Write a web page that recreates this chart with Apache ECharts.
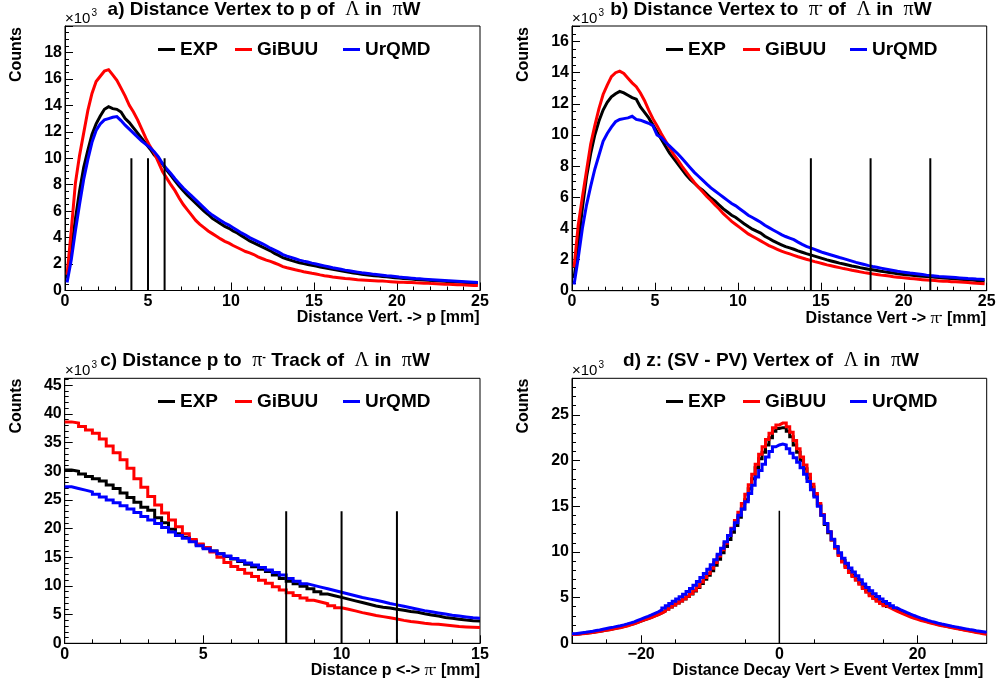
<!DOCTYPE html>
<html><head><meta charset="utf-8">
<script src="https://cdn.jsdelivr.net/npm/echarts@6/dist/echarts.min.js"></script>
<style>html,body{margin:0;padding:0;background:#fff}#c{width:996px;height:686px}</style>
</head><body><div id="c"></div>
<script>
const FONT = "'Liberation Sans', Arial, Helvetica, sans-serif";
const SERIF = "'Liberation Serif', 'DejaVu Serif', serif";
const seriesNames = ['EXP', 'GiBUU', 'UrQMD'];
const seriesColors = ['#000000', '#ff0000', '#0000ff'];

// ---- panel a: Distance Vertex -> p (bins 0.25 mm from 0), values in 10^3 counts
const aBinStart = 0, aBinWidth = 0.25;
const aEXP = [0.9,3.0,5.4,7.5,9.3,10.6,11.8,12.6,13.2,13.7,
  13.9,13.75,13.7,13.5,13.0,12.7,12.3,11.9,11.5,11.1,
  10.7,10.25,9.95,9.55,9.1,8.7,8.3,7.9,7.55,7.2,
  6.9,6.6,6.3,6.0,5.75,5.45,5.25,5.05,4.85,4.7,
  4.5,4.35,4.15,3.95,3.75,3.6,3.45,3.3,3.15,3.0,
  2.8,2.65,2.48,2.38,2.28,2.18,2.1,2.03,1.97,1.91,
  1.85,1.78,1.72,1.66,1.6,1.55,1.49,1.43,1.38,1.33,
  1.28,1.23,1.19,1.15,1.12,1.09,1.06,1.03,1.0,0.97,
  0.94,0.91,0.88,0.86,0.83,0.81,0.79,0.77,0.75,0.73,
  0.71,0.69,0.67,0.66,0.64,0.62,0.6,0.58,0.57,0.55];
const aGiBUU = [1.2,4.5,8.1,10.2,11.9,13.6,14.9,15.8,16.2,16.6,
  16.7,16.3,15.9,15.3,14.7,14.0,13.5,12.9,12.2,11.5,
  10.9,10.4,9.7,9.0,8.5,8.0,7.55,7.0,6.5,6.1,
  5.7,5.3,5.0,4.75,4.5,4.3,4.1,3.9,3.72,3.58,
  3.4,3.25,3.1,2.95,2.85,2.72,2.55,2.42,2.3,2.2,
  2.08,1.95,1.8,1.72,1.65,1.57,1.5,1.42,1.36,1.3,
  1.25,1.18,1.12,1.07,1.02,0.98,0.94,0.9,0.88,0.85,
  0.82,0.8,0.78,0.76,0.74,0.72,0.71,0.69,0.67,0.65,
  0.63,0.62,0.61,0.6,0.58,0.57,0.55,0.54,0.52,0.51,
  0.5,0.48,0.47,0.46,0.44,0.43,0.42,0.4,0.38,0.37];
const aUrQMD = [0.6,2.3,4.5,6.5,8.4,9.9,11.2,12.1,12.6,12.9,
  13.0,13.1,13.15,12.85,12.5,12.2,11.9,11.6,11.3,11.05,
  10.8,10.5,10.1,9.6,9.2,8.85,8.45,8.1,7.75,7.45,
  7.15,6.85,6.55,6.25,5.95,5.7,5.5,5.3,5.1,4.95,
  4.75,4.55,4.35,4.2,4.0,3.85,3.7,3.55,3.38,3.2,
  3.05,2.9,2.72,2.6,2.5,2.4,2.3,2.22,2.15,2.07,
  2.0,1.93,1.86,1.79,1.72,1.66,1.6,1.54,1.49,1.44,
  1.39,1.34,1.3,1.26,1.22,1.19,1.16,1.12,1.09,1.06,
  1.02,0.99,0.96,0.93,0.9,0.88,0.86,0.84,0.82,0.8,
  0.78,0.76,0.74,0.72,0.7,0.68,0.66,0.64,0.62,0.6];
const aCuts = [4, 5, 6], aCutTop = 10;

// ---- panel b: Distance Vertex -> pi- (bins 0.25 mm)
const bBinStart = 0, bBinWidth = 0.25;
const bEXP = [0.8,2.9,5.3,7.3,8.8,10.0,10.9,11.6,12.1,12.45,
  12.65,12.8,12.7,12.55,12.4,12.3,11.8,11.45,11.1,10.65,
  10.2,9.75,9.3,8.85,8.5,8.15,7.8,7.45,7.15,6.9,
  6.65,6.45,6.2,5.95,5.75,5.5,5.25,5.05,4.85,4.7,
  4.5,4.3,4.12,3.95,3.82,3.7,3.5,3.35,3.2,3.07,
  2.95,2.83,2.75,2.66,2.56,2.47,2.38,2.3,2.22,2.14,
  2.06,1.98,1.91,1.84,1.77,1.71,1.65,1.59,1.54,1.48,
  1.43,1.38,1.34,1.3,1.25,1.21,1.17,1.13,1.09,1.06,
  1.03,1.0,0.97,0.95,0.93,0.91,0.89,0.86,0.84,0.82,
  0.8,0.78,0.76,0.74,0.72,0.7,0.68,0.66,0.64,0.62];
const bGiBUU = [1.5,4.2,6.0,7.7,9.4,10.6,11.7,12.6,13.2,13.75,
  14.0,14.1,13.95,13.65,13.35,13.1,12.7,12.2,11.6,11.05,
  10.6,10.1,9.65,9.2,8.75,8.4,8.0,7.65,7.3,6.95,
  6.65,6.35,6.05,5.8,5.5,5.25,4.95,4.7,4.45,4.25,
  4.05,3.85,3.65,3.5,3.35,3.2,3.05,2.9,2.78,2.66,
  2.54,2.45,2.36,2.27,2.18,2.1,2.02,1.95,1.87,1.8,
  1.73,1.66,1.6,1.54,1.48,1.42,1.37,1.31,1.26,1.21,
  1.16,1.12,1.08,1.04,1.0,0.97,0.94,0.9,0.87,0.84,
  0.81,0.78,0.76,0.73,0.71,0.69,0.67,0.65,0.63,0.61,
  0.6,0.58,0.57,0.56,0.54,0.52,0.5,0.48,0.47,0.45];
const bUrQMD = [0.4,2.1,4.0,5.5,6.7,7.8,8.7,9.6,10.1,10.5,
  10.85,11.0,11.05,11.1,11.2,11.0,10.95,10.85,10.75,10.6,
  10.0,9.85,9.55,9.3,9.05,8.8,8.5,8.2,7.9,7.6,
  7.35,7.1,6.85,6.6,6.4,6.2,6.0,5.8,5.6,5.45,
  5.25,5.05,4.85,4.7,4.55,4.4,4.2,4.05,3.9,3.75,
  3.6,3.48,3.38,3.28,3.12,2.98,2.85,2.75,2.65,2.55,
  2.45,2.37,2.29,2.21,2.13,2.06,1.98,1.9,1.82,1.75,
  1.68,1.61,1.55,1.5,1.45,1.4,1.35,1.3,1.25,1.21,
  1.17,1.13,1.1,1.07,1.04,1.0,0.97,0.95,0.92,0.9,
  0.88,0.86,0.84,0.82,0.8,0.78,0.77,0.75,0.74,0.72];
const bCuts = [14.4, 18, 21.6], bCutTop = 8.5;

// ---- panel c: Distance p <-> pi- (bins 0.25 mm)
const cBinStart = 0, cBinWidth = 0.25;
const cEXP = [30.2,30.0,29.5,29.1,28.7,28.3,27.6,27.0,26.2,25.4,
  24.6,23.7,23.2,21.9,21.0,19.9,19.1,18.5,17.9,17.2,
  16.7,16.1,15.6,15.15,14.7,14.25,13.8,13.35,12.9,12.5,
  11.9,11.3,10.8,10.4,9.95,9.5,9.0,8.6,8.3,8.0,
  7.7,7.4,7.1,6.8,6.5,6.3,6.15,5.95,5.75,5.55,
  5.4,5.15,4.95,4.75,4.5,4.35,4.2,4.05,3.95,3.9];
const cGiBUU = [38.6,38.4,37.8,37.2,36.6,35.6,34.4,33.2,32.0,30.5,
  28.7,27.2,25.6,24.1,22.7,21.5,20.3,19.1,18.1,17.3,
  16.7,15.9,15.0,14.1,13.4,12.85,12.2,11.65,11.0,10.45,
  9.85,9.3,8.8,8.35,7.9,7.5,7.2,6.9,6.55,6.2,
  5.95,5.65,5.35,5.1,4.85,4.65,4.45,4.25,4.0,3.8,
  3.68,3.5,3.38,3.3,3.2,3.05,2.92,2.85,2.8,2.75];
const cUrQMD = [27.3,27.0,26.7,26.4,26.0,25.5,25.0,24.5,24.0,23.4,
  22.8,22.1,21.5,20.9,20.2,19.4,18.8,18.3,17.7,17.0,
  16.5,16.1,15.6,15.2,14.8,14.4,14.0,13.65,13.2,12.8,
  12.35,11.9,11.3,10.8,10.4,10.1,9.8,9.5,9.2,8.9,
  8.6,8.3,8.0,7.75,7.5,7.25,6.95,6.7,6.45,6.2,
  5.95,5.7,5.5,5.3,5.1,4.9,4.75,4.6,4.45,4.35];
const cCuts = [8, 10, 12], cCutTop = 23;

// ---- panel d: z (SV - PV) (bins 0.5 mm from -30)
const dBinStart = -30, dBinWidth = 0.5;
const dEXP = [0.98,1.02,1.06,1.1,1.14,1.19,1.25,1.31,1.38,1.44,
  1.51,1.58,1.66,1.74,1.83,1.93,2.04,2.16,2.29,2.43,
  2.57,2.7,2.84,2.99,3.15,3.32,3.52,3.74,3.96,4.18,
  4.4,4.62,4.86,5.12,5.4,5.72,6.1,6.55,7.0,7.45,
  7.95,8.55,9.2,9.9,10.6,11.35,12.15,12.9,13.8,14.7,
  15.7,16.9,18.0,19.2,20.2,20.9,21.7,22.5,23.2,23.5,
  23.6,23.6,23.2,22.6,21.7,20.9,20.0,19.1,18.1,17.1,
  16.2,15.1,14.0,13.0,12.1,11.3,10.5,9.75,9.05,8.45,
  7.9,7.45,7.05,6.6,6.15,5.75,5.37,5.05,4.75,4.5,
  4.25,4.03,3.83,3.63,3.45,3.28,3.12,2.97,2.83,2.7,
  2.58,2.47,2.36,2.26,2.16,2.06,1.98,1.9,1.82,1.75,
  1.67,1.6,1.52,1.45,1.38,1.31,1.24,1.17,1.1,1.03];
const dGiBUU = [0.97,1.0,1.04,1.08,1.12,1.17,1.23,1.29,1.36,1.42,
  1.49,1.56,1.64,1.71,1.8,1.9,2.01,2.13,2.27,2.42,
  2.56,2.68,2.82,2.97,3.13,3.3,3.5,3.73,3.96,4.18,
  4.4,4.63,4.88,5.15,5.45,5.8,6.2,6.7,7.2,7.65,
  8.2,8.85,9.55,10.25,10.95,11.8,12.6,13.45,14.35,15.3,
  16.3,17.35,18.5,19.6,20.7,21.5,22.3,23.0,23.6,23.9,
  24.1,24.1,23.7,23.1,22.2,21.3,20.4,19.5,18.5,17.4,
  16.4,15.3,14.1,13.1,12.2,11.3,10.4,9.6,8.9,8.3,
  7.75,7.3,6.9,6.45,6.0,5.6,5.2,4.9,4.6,4.35,
  4.1,3.9,3.7,3.52,3.35,3.18,3.02,2.88,2.74,2.62,
  2.5,2.4,2.3,2.2,2.1,2.0,1.92,1.85,1.77,1.7,
  1.62,1.55,1.47,1.4,1.33,1.26,1.19,1.12,1.05,0.98];
const dUrQMD = [1.05,1.1,1.15,1.2,1.26,1.32,1.39,1.46,1.54,1.62,
  1.7,1.77,1.85,1.93,2.02,2.12,2.23,2.35,2.5,2.65,
  2.8,2.94,3.1,3.27,3.45,3.65,3.87,4.1,4.35,4.6,
  4.85,5.1,5.38,5.68,6.0,6.35,6.75,7.2,7.65,8.1,
  8.6,9.15,9.75,10.4,11.1,11.8,12.5,13.2,14.0,14.7,
  15.5,16.4,17.3,18.2,18.9,19.6,20.4,21.0,21.5,21.7,
  21.8,21.7,21.3,20.8,20.3,19.8,19.2,18.5,17.7,16.8,
  16.0,15.0,14.0,13.1,12.2,11.4,10.6,9.9,9.3,8.75,
  8.25,7.8,7.4,6.95,6.5,6.1,5.75,5.42,5.12,4.85,
  4.58,4.35,4.12,3.9,3.7,3.52,3.35,3.19,3.04,2.9,
  2.76,2.63,2.51,2.4,2.3,2.2,2.11,2.03,1.95,1.87,
  1.8,1.72,1.65,1.58,1.51,1.45,1.38,1.32,1.26,1.2];
const dCuts = [0], dCutTop = 14.5;

// ---- texts ({g|..} = Greek symbol font, {s|..} = superscript)
const panelTitles = ['a) Distance Vertex to p of  {g|Λ} in  {g|π}W',
  'b) Distance Vertex to  {g|π}{s|-} of  {g|Λ} in  {g|π}W',
  'c) Distance p to  {g|π}{s|-} Track of  {g|Λ} in  {g|π}W',
  'd) z: (SV - PV) Vertex of  {g|Λ} in  {g|π}W'];
const xTitles = ['Distance Vert. -> p [mm]', 'Distance Vert -> {g|π}{s|-} [mm]',
  'Distance p <-> {g|π}{s|-} [mm]', 'Distance Decay Vert > Event Vertex [mm]'];
const yTitle = 'Counts';

// ---- layout (pixels)
const panels = [
  { grid: {left: 65, top: 26, width: 415, height: 264.5}, stepped: false,
    x: {min: 0, max: 25, interval: 5, minor: 5}, y: {min: 0, max: 20, interval: 2, minor: 4},
    bins: [aBinStart, aBinWidth], vals: [aEXP, aGiBUU, aUrQMD], cuts: aCuts, cutTop: aCutTop, cutW: 2,
    titleXY: [264, 9.5], expXY: [65, 18.5], cntXY: [17, 27], xtXY: [479.5, 317.5], legX: [158, 235, 343], legY: 40 },
  { grid: {left: 572, top: 26, width: 414.7, height: 264.7}, stepped: false,
    x: {min: 0, max: 25, interval: 5, minor: 5}, y: {min: 0, max: 17, interval: 2, minor: 4},
    bins: [bBinStart, bBinWidth], vals: [bEXP, bGiBUU, bUrQMD], cuts: bCuts, cutTop: bCutTop, cutW: 2,
    titleXY: [771, 9.5], expXY: [572, 18.5], cntXY: [524, 27], xtXY: [986, 319], legX: [666, 743, 850], legY: 40 },
  { grid: {left: 64.7, top: 378.3, width: 415.3, height: 265}, stepped: true,
    x: {min: 0, max: 15, interval: 5, minor: 5}, y: {min: 0, max: 46.2, interval: 5, minor: 5},
    bins: [cBinStart, cBinWidth], vals: [cEXP, cGiBUU, cUrQMD], cuts: cCuts, cutTop: cCutTop, cutW: 2,
    titleXY: [265, 361], expXY: [65, 370.5], cntXY: [17, 378.5], xtXY: [480, 670.5], legX: [158, 235, 343], legY: 392 },
  { grid: {left: 572, top: 378.3, width: 414.7, height: 265}, stepped: true,
    x: {min: -30, max: 30, interval: 10, minor: 2, labels: [-20, 0, 20]}, y: {min: 0, max: 29, interval: 5, minor: 5},
    bins: [dBinStart, dBinWidth], vals: [dEXP, dGiBUU, dUrQMD], cuts: dCuts, cutTop: dCutTop, cutW: 1.5,
    titleXY: [771, 361], expXY: [572, 370.5], cntXY: [524, 378.5], xtXY: [983.3, 670.5], legX: [666, 743, 850], legY: 392 }
];

function histPoints(start, width, vals, stepped) {
  if (!stepped) return vals.map((v, i) => [start + (i + 0.5) * width, v]);
  const pts = vals.map((v, i) => [start + i * width, v]);
  pts.push([start + vals.length * width, vals[vals.length - 1]]);
  return pts;
}

function richFor(size) {
  return {
    g: {fontFamily: SERIF, fontSize: size + 1, fontWeight: 'normal', fill: '#000'},
    s: {fontFamily: FONT, fontSize: Math.round(size * 0.6), fontWeight: 'bold', fill: '#000', verticalAlign: 'top'}
  };
}

const grids = [], xAxes = [], yAxes = [], series = [], legends = [], graphics = [];
const labelStyle = {color: '#000', fontFamily: FONT, fontWeight: 'bold', fontSize: 16};

panels.forEach((p, g) => {
  grids.push(Object.assign({show: true, borderColor: '#000', borderWidth: 1, backgroundColor: 'transparent',
    containLabel: false, outerBoundsMode: 'none'}, p.grid));
  const xa = {
    type: 'value', gridIndex: g, min: p.x.min, max: p.x.max, interval: p.x.interval,
    axisLine: {show: true, onZero: false, lineStyle: {color: '#000', width: 1}},
    axisTick: {show: true, inside: true, length: 8, lineStyle: {color: '#000', width: 1}},
    minorTick: {show: true, splitNumber: p.x.minor, length: 4, lineStyle: {color: '#000', width: 1}},
    splitLine: {show: false}, minorSplitLine: {show: false},
    axisLabel: Object.assign({margin: 3, showMinLabel: true, showMaxLabel: true,
      formatter: v => String(v).replace('-', '\u2212')}, labelStyle)
  };
  if (p.x.labels) {
    xa.axisLabel.customValues = p.x.labels;
    xa.axisTick.customValues = p.x.labels;
  }
  xAxes.push(xa);
  yAxes.push({
    type: 'value', gridIndex: g, min: p.y.min, max: p.y.max, interval: p.y.interval,
    axisLine: {show: true, onZero: false, lineStyle: {color: '#000', width: 1}},
    axisTick: {show: true, inside: true, length: 8, lineStyle: {color: '#000', width: 1}},
    minorTick: {show: true, splitNumber: p.y.minor, length: 4, lineStyle: {color: '#000', width: 1}},
    splitLine: {show: false}, minorSplitLine: {show: false},
    axisLabel: Object.assign({margin: 3, showMaxLabel: false}, labelStyle)
  });
  seriesNames.forEach((name, k) => {
    series.push({
      name: name, type: 'line', xAxisIndex: g, yAxisIndex: g, step: p.stepped ? 'end' : false,
      data: histPoints(p.bins[0], p.bins[1], p.vals[k], p.stepped),
      symbol: 'none', showSymbol: false, clip: true, z: 2 + k,
      lineStyle: {color: seriesColors[k], width: 3, join: 'miter'},
      itemStyle: {color: seriesColors[k]}, emphasis: {disabled: true}
    });
  });
  p.cuts.forEach(c => {
    series.push({
      name: 'cut', type: 'line', xAxisIndex: g, yAxisIndex: g, data: [[c, 0], [c, p.cutTop]],
      symbol: 'none', showSymbol: false, z: 6, silent: true,
      lineStyle: {color: '#000', width: p.cutW}, emphasis: {disabled: true}
    });
  });
  seriesNames.forEach((name, k) => {
    legends.push({
      data: [name], left: p.legX[k], top: p.legY, icon: 'rect', itemWidth: 17, itemHeight: 3,
      padding: 0, itemGap: 0, selectedMode: false,
      textStyle: {color: '#000', fontFamily: FONT, fontWeight: 'bold', fontSize: 19}
    });
  });
  graphics.push({type: 'text', x: p.titleXY[0], y: p.titleXY[1], silent: true,
    style: {text: panelTitles[g], fill: '#000', fontFamily: FONT, fontWeight: 'bold', fontSize: 19,
      align: 'center', verticalAlign: 'middle', rich: richFor(19)}});
  graphics.push({type: 'text', x: p.expXY[0], y: p.expXY[1], silent: true,
    style: {text: '\u00d710', fill: '#000', fontFamily: FONT, fontSize: 15, align: 'left', verticalAlign: 'middle'}});
  graphics.push({type: 'text', x: p.expXY[0] + 26.5, y: p.expXY[1] - 5, silent: true,
    style: {text: '3', fill: '#000', fontFamily: FONT, fontSize: 10, align: 'left', verticalAlign: 'middle'}});
  graphics.push({type: 'text', x: p.cntXY[0], y: p.cntXY[1], rotation: Math.PI / 2, silent: true,
    style: {text: yTitle, fill: '#000', fontFamily: FONT, fontWeight: 'bold', fontSize: 16,
      align: 'right', verticalAlign: 'middle'}});
  graphics.push({type: 'text', x: p.xtXY[0], y: p.xtXY[1], silent: true,
    style: {text: xTitles[g], fill: '#000', fontFamily: FONT, fontWeight: 'bold', fontSize: 16,
      align: 'right', verticalAlign: 'middle', rich: richFor(16)}});
});

const chart = echarts.init(document.getElementById('c'), null, {renderer: 'canvas'});
chart.setOption({
  backgroundColor: '#ffffff',
  animation: false,
  textStyle: {fontFamily: FONT},
  grid: grids, xAxis: xAxes, yAxis: yAxes, series: series, legend: legends, graphic: graphics,
  tooltip: {show: false}
});
</script></body></html>
